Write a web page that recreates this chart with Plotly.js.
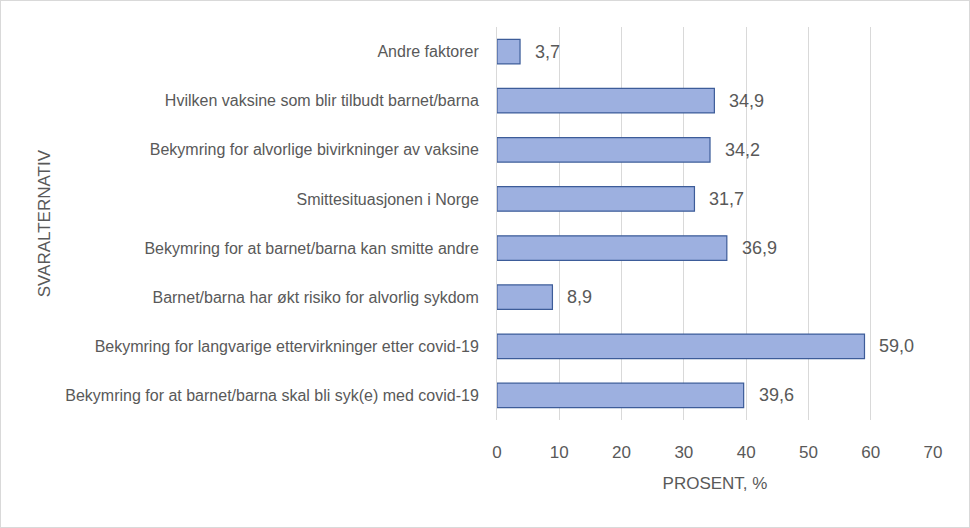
<!DOCTYPE html>
<html>
<head>
<meta charset="utf-8">
<script src="https://cdn.plot.ly/plotly-3.0.1.min.js"></script>
<style>
  html, body { margin: 0; padding: 0; background: #fff; }
  #plot { width: 968px; height: 526px; border: 1px solid #d9d9d9; }
</style>
</head>
<body>
<div id="plot"></div>
<script>
// answer options, top to bottom as in the chart
var categories = [
    "Andre faktorer",
    "Hvilken vaksine som blir tilbudt barnet/barna",
    "Bekymring for alvorlige bivirkninger av vaksine",
    "Smittesituasjonen i Norge",
    "Bekymring for at barnet/barna kan smitte andre",
    "Barnet/barna har økt risiko for alvorlig sykdom",
    "Bekymring for langvarige ettervirkninger etter covid-19",
    "Bekymring for at barnet/barna skal bli syk(e) med covid-19"
];
var percent = [3.7, 34.9, 34.2, 31.7, 36.9, 8.9, 59.0, 39.6];
var xTicks = [0, 10, 20, 30, 40, 50, 60, 70];

var fontFam = "Liberation Sans, Arial, sans-serif";
var gray = "#595959";

function fmt(v) {
    return v.toFixed(1).replace(".", ",");
}

var trace = {
    type: "bar",
    orientation: "h",
    x: percent,
    y: categories,
    marker: {
        color: "#9db0e0",
        line: {color: "#3d5c99", width: 1.2}
    },
    hoverinfo: "x+y"
};

var labels = percent.map((v, i) => ({
    x: v,
    y: categories[i],
    xref: "x",
    yref: "y",
    text: fmt(v),
    showarrow: false,
    xanchor: "left",
    xshift: 13,
    font: {family: fontFam, size: 18, color: gray}
}));

// y axis title placed as a rotated annotation, far left like the original
labels.push({
    text: "SVARALTERNATIV",
    xref: "paper",
    yref: "paper",
    x: -1.037,
    y: 0.5,
    textangle: -90,
    showarrow: false,
    xanchor: "center",
    yanchor: "middle",
    font: {family: fontFam, size: 17, color: gray}
});

var layout = {
    width: 968,
    height: 526,
    margin: {l: 496, r: 36, t: 26, b: 107},
    paper_bgcolor: "#ffffff",
    plot_bgcolor: "#ffffff",
    showlegend: false,
    bargap: 0.5,
    font: {family: fontFam, color: gray},
    xaxis: {
        range: [0, 70],
        tickvals: xTicks,
        showgrid: true,
        gridcolor: "#d9d9d9",
        gridwidth: 1,
        zeroline: false,
        showline: false,
        ticks: "",
        ticklabelstandoff: 20,
        tickfont: {family: fontFam, size: 17, color: gray},
        title: {text: "PROSENT, %", font: {family: fontFam, size: 17, color: gray}, standoff: 16}
    },
    yaxis: {
        autorange: "reversed",
        showline: true,
        linecolor: "#d9d9d9",
        linewidth: 1,
        ticks: "",
        ticklabelstandoff: 14,
        tickfont: {family: fontFam, size: 16, color: gray}
    },
    annotations: labels
};

Plotly.newPlot("plot", [trace], layout, {displayModeBar: false, staticPlot: true});
</script>
</body>
</html>
